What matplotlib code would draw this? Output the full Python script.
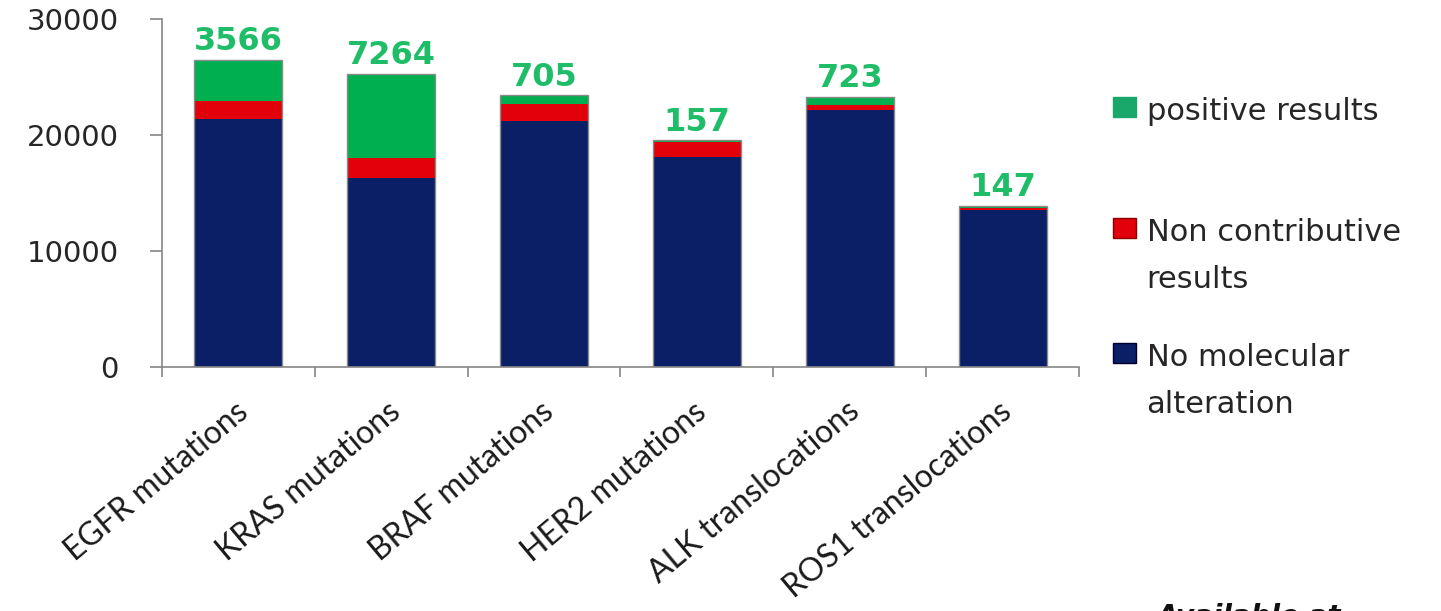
import numpy as np
import matplotlib.pyplot as plt
from matplotlib.patches import Patch
from matplotlib.transforms import ScaledTranslation

# Molecular testing results per biomarker
categories = ["EGFR mutations", "KRAS mutations", "BRAF mutations",
              "HER2 mutations", "ALK translocations", "ROS1 translocations"]
no_alteration = [21440, 16350, 21230, 18080, 22210, 13530]
non_contributive = [1490, 1700, 1500, 1310, 360, 225]
positive = [3566, 7264, 705, 157, 723, 147]

navy = "#0b1f66"
red = "#e2000b"
green = "#00b050"
label_green = "#1fbd68"
axis_grey = "#868686"
text_col = "#262626"


def add_key(fig, color, edge, label, y_top):
    # one legend entry, swatch lined up with the first text line
    leg = fig.legend([Patch(facecolor=color, edgecolor=edge)], [label],
                     loc="upper left", bbox_to_anchor=(1113 / 1441, y_top),
                     frameon=False, fontsize=22, handlelength=0.75,
                     handleheight=0.62, handletextpad=0.35, borderpad=0,
                     borderaxespad=0, labelcolor=text_col)
    for t in leg.get_texts():
        t.set_linespacing(1.8)
    for col in leg._legend_handle_box.get_children():
        for row in col.get_children():
            row.align = "top"
    return leg


def main():
    fig = plt.figure(figsize=(14.41, 6.11), dpi=100)
    ax = fig.add_axes([0.1124, 0.3993, 0.6364, 0.5691])

    x = np.arange(len(categories))
    width = 0.575
    na = np.array(no_alteration)
    nc = np.array(non_contributive)
    pos = np.array(positive)
    total = na + nc + pos

    ax.bar(x, na, width, color=navy, linewidth=0)
    ax.bar(x, nc, width, bottom=na, color=red, linewidth=0)
    ax.bar(x, pos, width, bottom=na + nc, color=green, linewidth=0)
    # thin outline round each whole stack
    ax.bar(x, total, width, fill=False, edgecolor="#8a8a8a", linewidth=1.0)

    # count of positive results above each stack
    for xi, top, p in zip(x, total, pos):
        ax.annotate(str(p), (xi, top), xytext=(0, 2), textcoords="offset points",
                    ha="center", va="bottom", color=label_green,
                    fontsize=23, fontweight="bold")

    ax.set_xlim(-0.5, len(categories) - 0.5)
    ax.set_ylim(0, 30000)
    ax.set_yticks([0, 10000, 20000, 30000])
    ax.tick_params(axis="y", length=9, width=1.2, color=axis_grey, pad=22,
                   labelsize=21, labelcolor=text_col)

    # ticks sit between categories, labels at category centres
    ax.set_xticks(np.arange(-0.5, len(categories)), labels=[])
    ax.tick_params(axis="x", which="major", length=7, width=1.2, color=axis_grey)
    ax.set_xticks(x, minor=True)
    ax.set_xticklabels(categories, minor=True, rotation=40, ha="right",
                       rotation_mode="anchor", fontsize=23, color="#1a1a1a",
                       family="Lato")
    ax.tick_params(axis="x", which="minor", length=0, pad=21)
    offset = ScaledTranslation(-0.04, 0, fig.dpi_scale_trans)
    for lbl in ax.get_xticklabels(minor=True):
        lbl.set_transform(lbl.get_transform() + offset)

    for side in ["top", "right"]:
        ax.spines[side].set_visible(False)
    for side in ["left", "bottom"]:
        ax.spines[side].set_color(axis_grey)
        ax.spines[side].set_linewidth(1.2)

    add_key(fig, "#1aa86a", "#1aa86a", "positive results", 1 - 97 / 611)
    add_key(fig, red, "#8a0000", "Non contributive\nresults", 1 - 218 / 611)
    add_key(fig, navy, "#000030", "No molecular\nalteration", 1 - 343 / 611)

    fig.text(1157 / 1441, 1 - 603 / 611, "Available at", va="top", ha="left",
             fontsize=20, style="italic", fontweight="bold", color="#111111")

    fig.savefig("out.png", dpi=100)


if __name__ == "__main__":
    main()
